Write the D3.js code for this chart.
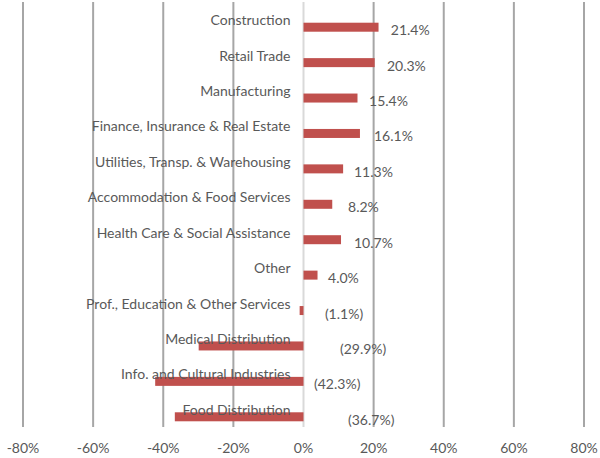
<!DOCTYPE html>
<html>
<head>
<meta charset="utf-8">
<script src="https://cdn.jsdelivr.net/npm/d3@7"></script>
<style>
  body { margin: 0; background: #fff; }
  text { font-family: Lato, "Open Sans", sans-serif; fill: #595959; }
</style>
</head>
<body>
<div id="chart"></div>
<script>
// categories top to bottom
var categories = [
  "Construction",
  "Retail Trade",
  "Manufacturing",
  "Finance, Insurance & Real Estate",
  "Utilities, Transp. & Warehousing",
  "Accommodation & Food Services",
  "Health Care & Social Assistance",
  "Other",
  "Prof., Education & Other Services",
  "Medical Distribution",
  "Info. and Cultural Industries",
  "Food Distribution"
];
// change, percent
var values = [21.4, 20.3, 15.4, 16.1, 11.3, 8.2, 10.7, 4.0, -1.1, -29.9, -42.3, -36.7];
// where the data labels were dragged to (percent units on x)
var labelAt = [24.9, 23.8, 18.7, 20.1, 14.4, 12.7, 14.4, 7.0, 6.1, 10.4, 3.0, 12.7];
var ticks = [-80, -60, -40, -20, 0, 20, 40, 60, 80];

var width = 600, height = 458;
var margin = { top: 2, bottom: 31, left: 23, right: 16 };

var svg = d3.select("#chart")
  .append("svg")
  .attr("width", width)
  .attr("height", height);

var xScale = d3.scaleLinear()
  .domain([-80, 80])
  .range([margin.left, width - margin.right]);

var yScale = d3.scaleBand()
  .domain(categories)
  .range([margin.top, height - margin.bottom]);

var bh = 9;

// gridlines
svg.append("g")
  .selectAll("line")
  .data(ticks)
  .enter()
  .append("line")
  .attr("x1", d => xScale(d))
  .attr("x2", d => xScale(d))
  .attr("y1", margin.top)
  .attr("y2", height - margin.bottom)
  .attr("stroke", d => d == 0 ? "#d9d9d9" : "#a6a6a6")
  .attr("stroke-width", 2);

// tick labels
svg.append("g")
  .selectAll("text")
  .data(ticks)
  .enter()
  .append("text")
  .attr("x", d => xScale(d))
  .attr("y", 447)
  .attr("text-anchor", "middle")
  .attr("dominant-baseline", "central")
  .attr("font-size", "14px")
  .text(d => d + "%");

// bars
svg.append("g")
  .selectAll("rect")
  .data(values)
  .enter()
  .append("rect")
  .attr("x", d => xScale(Math.min(0, d)))
  .attr("width", d => Math.abs(xScale(d) - xScale(0)))
  .attr("y", (d, i) => yScale(categories[i]) + yScale.bandwidth() / 2 + 3)
  .attr("height", bh)
  .attr("fill", "#c0504d");

// category labels
svg.append("g")
  .selectAll("text")
  .data(categories)
  .enter()
  .append("text")
  .attr("x", xScale(0) - 13)
  .attr("y", d => yScale(d) + yScale.bandwidth() / 2)
  .attr("text-anchor", "end")
  .attr("dominant-baseline", "central")
  .attr("font-size", "14px")
  .text(d => d);

// value labels
var fmt = d3.format(".1f");
svg.append("g")
  .selectAll("text")
  .data(values)
  .enter()
  .append("text")
  .attr("x", (d, i) => xScale(labelAt[i]))
  .attr("y", (d, i) => yScale(categories[i]) + yScale.bandwidth() / 2 + 10)
  .attr("dominant-baseline", "central")
  .attr("font-size", "14px")
  .text(d => d < 0 ? "(" + fmt(-d) + "%)" : fmt(d) + "%");
</script>
</body>
</html>
